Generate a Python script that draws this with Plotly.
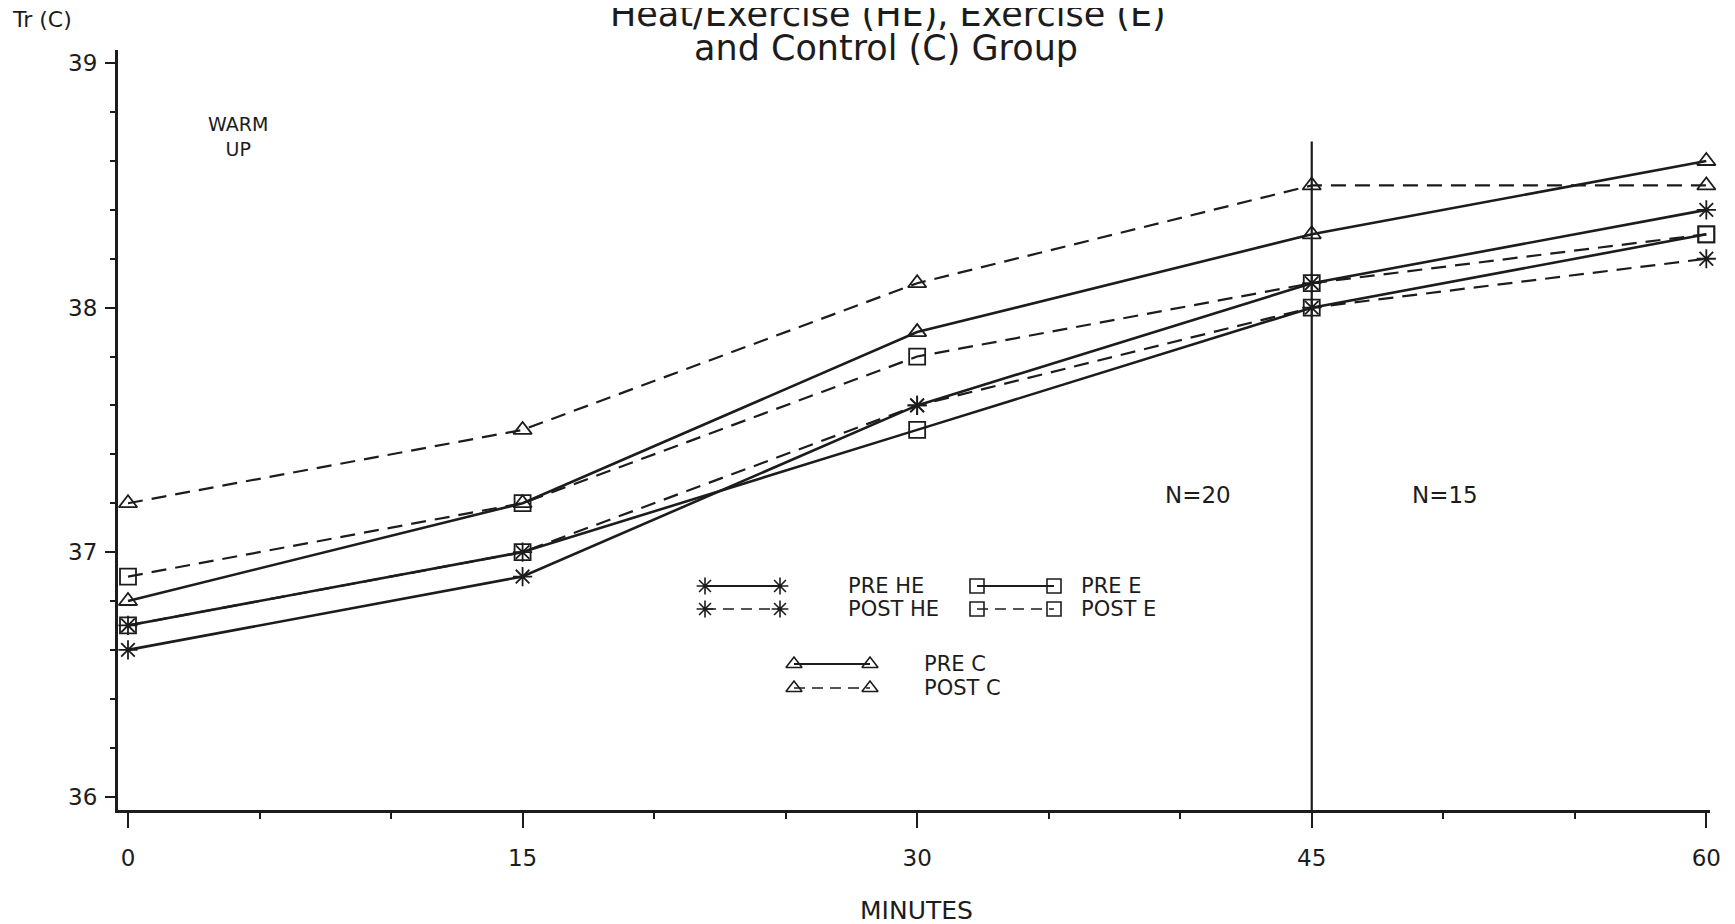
import plotly.graph_objects as go

# ---------------- data ----------------
minutes = [0, 15, 30, 45, 60]
pre_he = [36.6, 36.9, 37.6, 38.1, 38.4]
post_he = [36.7, 37.0, 37.6, 38.0, 38.2]
pre_e = [36.7, 37.0, 37.5, 38.0, 38.3]
post_e = [36.9, 37.2, 37.8, 38.1, 38.3]
pre_c = [36.8, 37.2, 37.9, 38.3, 38.6]
post_c = [37.2, 37.5, 38.1, 38.5, 38.5]

series_names = ["PRE HE", "POST HE", "PRE E", "POST E", "PRE C", "POST C"]
series_values = [pre_he, post_he, pre_e, post_e, pre_c, post_c]
series_symbols = ["asterisk-open", "asterisk-open", "square-open", "square-open",
                  "triangle-up-open", "triangle-up-open"]
series_dashed = [False, True, False, True, False, True]

x_ticks = [0, 15, 30, 45, 60]
y_ticks = [36, 37, 38, 39]
divider_minute = 45
divider_top = 38.68

# ---------------- layout geometry (pixels) ----------------
W, H = 1735, 924
OFF = 8  # default page body margin
L, R, T, B = 110, 33, 42, 122
PW, PH = W - L - R, H - T - B
INK = "#1c1c1c"
FONT = "DejaVu Sans"
DASH = "15px,9px"
Y_MIN, Y_MAX = 35.945, 39.054


def px(xp):
    # page pixel -> paper x
    return (xp - OFF - L) / PW


def py(yp):
    # page pixel -> paper y
    return (H - B - (yp - OFF)) / PH


fig = go.Figure()

for name, vals, sym, dashed in zip(series_names, series_values, series_symbols, series_dashed):
    fig.add_trace(go.Scatter(
        x=minutes, y=vals, mode="lines+markers", name=name, showlegend=False,
        line=dict(color=INK, width=2.2 if dashed else 2.6, dash=DASH if dashed else "solid"),
        marker=dict(symbol=sym, size=16, color=INK, line=dict(color=INK, width=1.8)),
        cliponaxis=False,
    ))

# vertical divider at 45 min
fig.add_shape(type="line", xref="x", yref="y", x0=divider_minute, x1=divider_minute,
              y0=Y_MIN, y1=divider_top, line=dict(color=INK, width=2.2))

# ---------------- custom legend (overlay pixel axes) ----------------
legend_items = [
    # name, symbol, dashed, x0, x1, y, text_x   (page pixels)
    ("PRE HE", "asterisk-open", False, 705, 780, 586, 846),
    ("POST HE", "asterisk-open", True, 705, 780, 609, 846),
    ("PRE E", "square-open", False, 977, 1054, 586, 1079),
    ("POST E", "square-open", True, 977, 1054, 609, 1079),
    ("PRE C", "triangle-up-open", False, 794, 870, 664, 922),
    ("POST C", "triangle-up-open", True, 794, 870, 688, 922),
]
for name, sym, dashed, x0, x1, yy, tx in legend_items:
    fig.add_trace(go.Scatter(
        x=[x0, x1], y=[yy, yy], mode="lines+markers", xaxis="x2", yaxis="y2",
        showlegend=False, hoverinfo="skip", cliponaxis=False,
        line=dict(color=INK, width=1.6 if dashed else 2.0, dash="11px,7px" if dashed else "solid"),
        marker=dict(symbol=sym, size=14, color=INK, line=dict(color=INK, width=1.6)),
    ))
    fig.add_annotation(x=px(tx), y=py(yy), xref="paper", yref="paper", text=name,
                       showarrow=False, xanchor="left", yanchor="middle",
                       font=dict(family=FONT, size=21, color=INK))

# ---------------- text ----------------
texts = [
    ("Heat/Exercise (HE), Exercise (E)", 888, 14, 35),
    ("and Control (C) Group", 886, 48, 35),
    ("Tr (C)", 42, 20, 22),
    ("WARM<br>UP", 238, 137, 19),
    ("N=20", 1198, 495, 23),
    ("N=15", 1445, 495, 23),
    ("MINUTES", 916, 911, 25),
]
for t, xx, yy, fs in texts:
    fig.add_annotation(x=px(xx), y=py(yy), xref="paper", yref="paper", text=t,
                       showarrow=False, xanchor="center", yanchor="middle",
                       font=dict(family=FONT, size=fs, color=INK))

fig.update_layout(
    width=W, height=H, margin=dict(l=L, r=R, t=T, b=B, autoexpand=False),
    paper_bgcolor="white", plot_bgcolor="white",
    font=dict(family=FONT, color=INK),
    xaxis=dict(range=[-0.38, 60.14], tickvals=x_ticks, ticktext=[str(v) for v in x_ticks],
               showgrid=False, zeroline=False, showline=True, linecolor=INK, linewidth=3,
               ticks="outside", ticklen=15, tickwidth=1.8, tickcolor=INK,
               tickfont=dict(family=FONT, size=23, color=INK), ticklabelstandoff=10,
               minor=dict(dtick=5, tick0=0, ticks="outside", ticklen=6, tickwidth=1.5,
                          tickcolor=INK, showgrid=False)),
    yaxis=dict(range=[Y_MIN, Y_MAX], tickvals=y_ticks, ticktext=[str(v) for v in y_ticks],
               showgrid=False, zeroline=False, showline=True, linecolor=INK, linewidth=3,
               ticks="outside", ticklen=10, tickwidth=1.8, tickcolor=INK,
               tickfont=dict(family=FONT, size=23, color=INK), ticklabelstandoff=3,
               minor=dict(dtick=0.2, tick0=36, ticks="outside", ticklen=5, tickwidth=1.5,
                          tickcolor=INK, showgrid=False)),
    xaxis2=dict(overlaying="x", range=[L + OFF, W - R + OFF], visible=False, fixedrange=True),
    yaxis2=dict(overlaying="y", range=[H - B + OFF, T + OFF], visible=False, fixedrange=True),
)

fig.write_html("out.html")
